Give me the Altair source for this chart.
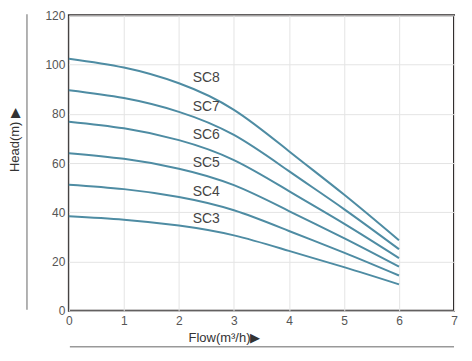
import altair as alt
import pandas as pd

flow = [0, 1, 2, 3, 4, 5, 6]
sc3 = [38.4, 37.0, 34.6, 30.6, 24.3, 17.7, 10.7]
sc4 = [51.2, 49.4, 46.2, 40.8, 32.4, 23.6, 14.3]
sc5 = [64.0, 61.7, 57.7, 51.0, 40.5, 29.5, 17.9]
sc6 = [76.8, 74.1, 69.3, 61.2, 48.6, 35.4, 21.4]
sc7 = [89.6, 86.4, 80.8, 71.4, 56.7, 41.3, 25.0]
sc8 = [102.4, 98.8, 92.4, 81.6, 64.8, 47.2, 28.6]

series_names = ["SC3", "SC4", "SC5", "SC6", "SC7", "SC8"]
label_x = [2.25, 2.25, 2.25, 2.25, 2.25, 2.25]
label_y = [37.3, 48.4, 59.9, 71.3, 82.8, 94.7]

x_ticks = [0, 1, 2, 3, 4, 5, 6, 7]
y_ticks = [0, 20, 40, 60, 80, 100, 120]

rows = []
for name, vals in zip(series_names, [sc3, sc4, sc5, sc6, sc7, sc8]):
    for f, h in zip(flow, vals):
        rows.append({"series": name, "flow": f, "head": h})
df = pd.DataFrame(rows)
lab = pd.DataFrame({"series": series_names, "x": label_x, "y": label_y})
one = pd.DataFrame({"a": [0]})

FONT = "Liberation Sans"
LINE = "#4e8ca3"

xs = alt.Scale(domain=[0, 7], nice=False)
ys = alt.Scale(domain=[0, 120], nice=False)

xaxis = alt.Axis(values=x_ticks, format="d", title=None, ticks=False, domain=False,
                 labelPadding=5, labelColor="#555", labelFont=FONT, labelFontSize=12,
                 gridColor="#e4e4e4", labelFlush=False)
yaxis = alt.Axis(values=y_ticks, format="d", title=None, ticks=False, domain=False,
                 labelPadding=4, labelColor="#555", labelFont=FONT, labelFontSize=12,
                 gridColor="#e4e4e4")

lines = alt.Chart(df).mark_line(interpolate="natural", color=LINE, strokeWidth=2).encode(
    x=alt.X("flow:Q", scale=xs, axis=xaxis),
    y=alt.Y("head:Q", scale=ys, axis=yaxis),
    detail="series:N",
)

labels = alt.Chart(lab).mark_text(align="left", baseline="middle", font=FONT,
                                  fontSize=14, color="#444").encode(
    x=alt.X("x:Q", scale=xs),
    y=alt.Y("y:Q", scale=ys),
    text="series:N",
)

vrule = alt.Chart(one).mark_rule(color="#999", strokeWidth=1.5).encode(
    x=alt.value(-42), y=alt.value(-1), y2=alt.value(295))
hrule = alt.Chart(one).mark_rule(color="#999", strokeWidth=1.5).encode(
    x=alt.value(1), x2=alt.value(386), y=alt.value(332))

ytitle = alt.Chart(one).mark_text(text="Head(m) ▶", angle=270, align="center",
                                  baseline="middle", font=FONT, fontSize=13,
                                  color="#333").encode(
    x=alt.value(-54), y=alt.value(125))
xtitle = alt.Chart(one).mark_text(text="Flow(m³/h)▶", align="center", baseline="middle",
                                  font=FONT, fontSize=13, color="#333").encode(
    x=alt.value(156), y=alt.value(323))

chart = alt.layer(lines, labels, vrule, hrule, ytitle, xtitle).properties(
    width=386, height=296,
    autosize=alt.AutoSizeParams(type="none"),
    padding={"left": 61, "top": 7, "right": 10, "bottom": 40},
).configure_view(stroke="#2e2a2a", strokeWidth=2)

chart.save("out.html", embed_options={"renderer": "svg", "actions": False})
